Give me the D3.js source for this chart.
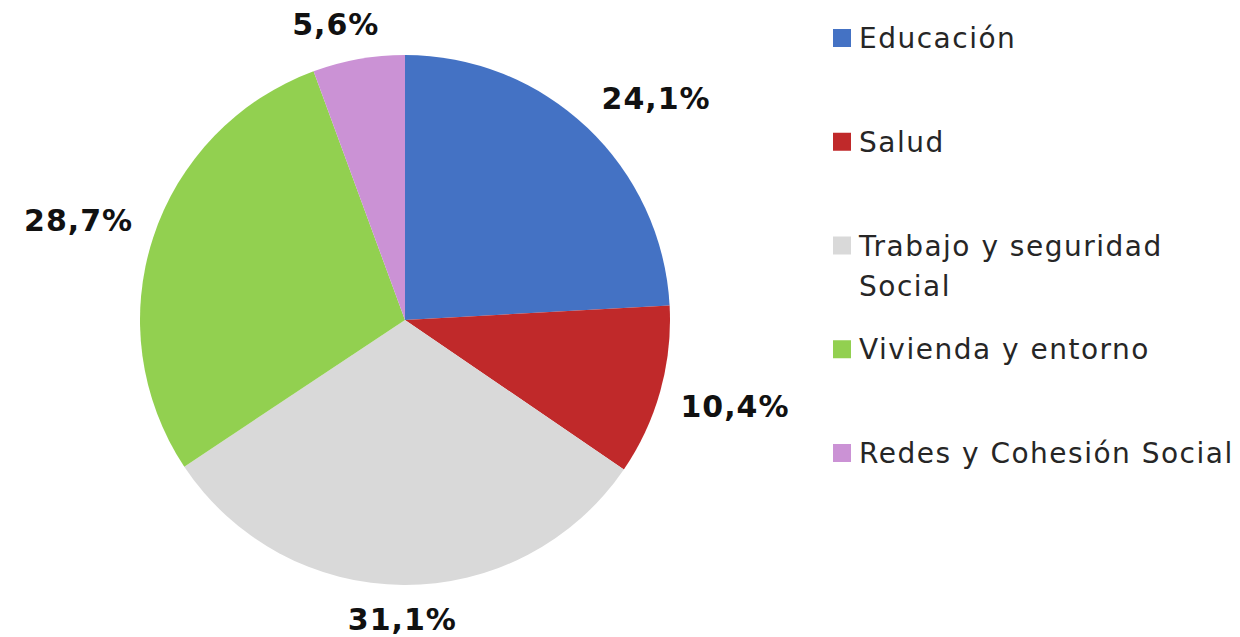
<!DOCTYPE html>
<html>
<head>
<meta charset="utf-8">
<script src="https://cdn.jsdelivr.net/npm/d3@7"></script>
<style>
  html, body { margin: 0; padding: 0; background: #ffffff; }
  svg { display: block; }
</style>
</head>
<body>
<svg id="chart" width="1240" height="637"></svg>
<script>
const categories = ["Educación", "Salud", "Trabajo y seguridad Social", "Vivienda y entorno", "Redes y Cohesión Social"];
const legendLines = [["Educación"], ["Salud"], ["Trabajo y seguridad", "Social"], ["Vivienda y entorno"], ["Redes y Cohesión Social"]];
const values = [24.1, 10.4, 31.1, 28.7, 5.6];
const valueLabels = ["24,1%", "10,4%", "31,1%", "28,7%", "5,6%"];
const colors = ["#4472C4", "#C0292A", "#D9D9D9", "#92D050", "#CB92D5"];

const svg = d3.select("#chart");
const cx = 405, cy = 320, R = 265;

const pie = d3.pie().sort(null).value(d => d).startAngle(0).endAngle(2 * Math.PI);
const arcs = pie(values);
const arc = d3.arc().innerRadius(0).outerRadius(R);

const g = svg.append("g").attr("transform", `translate(${cx},${cy})`);
g.selectAll("path.slice")
  .data(arcs)
  .join("path")
  .attr("class", "slice")
  .attr("d", arc)
  .attr("fill", (d, i) => colors[i]);

// data labels: box corner anchored on the bisector just outside the pie
const gap = 21, boxH = 28, k = 2.5;
const clamp = v => Math.max(-1, Math.min(1, v));
const labels = g.selectAll("text.lbl")
  .data(arcs)
  .join("text")
  .attr("class", "lbl")
  .attr("font-family", "DejaVu Sans, Verdana, sans-serif")
  .attr("font-weight", "bold")
  .attr("font-size", 30)
  .attr("letter-spacing", 1)
  .attr("fill", "#111")
  .attr("text-anchor", "middle")
  .attr("dominant-baseline", "central")
  .text((d, i) => valueLabels[i]);

labels.each(function(d) {
  const bb = this.getBBox();
  const a = (d.startAngle + d.endAngle) / 2;
  const ux = Math.sin(a), uy = -Math.cos(a);
  const px = ux * (R + gap), py = uy * (R + gap);
  const x = px + clamp(ux * k) * bb.width / 2;
  const y = py + clamp(uy * k) * boxH / 2;
  d3.select(this).attr("x", x).attr("y", y);
});

// legend
const legendY = d3.scalePoint().domain(categories).range([38, 453]);
const items = svg.append("g").selectAll("g.item")
  .data(categories)
  .join("g")
  .attr("class", "item")
  .attr("transform", d => `translate(833,${legendY(d)})`);

items.append("rect")
  .attr("x", 0).attr("y", -9)
  .attr("width", 18).attr("height", 18)
  .attr("fill", (d, i) => colors[i]);

items.each(function(d, i) {
  const t = d3.select(this).append("text")
    .attr("font-family", "DejaVu Sans, Verdana, sans-serif")
    .attr("font-size", 28)
    .attr("letter-spacing", 1.5)
    .attr("fill", "#262626")
    .attr("dominant-baseline", "central");
  legendLines[i].forEach((ln, j) => {
    t.append("tspan").attr("x", 26).attr("y", j * 40).text(ln);
  });
});
</script>
</body>
</html>
